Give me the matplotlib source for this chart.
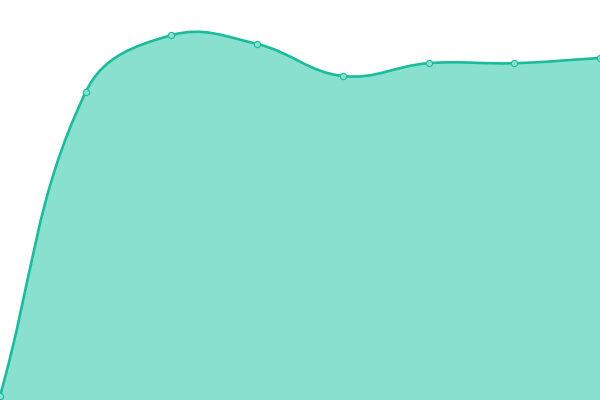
import matplotlib
matplotlib.use('Agg')
import matplotlib.pyplot as plt
from matplotlib.path import Path
from matplotlib.patches import PathPatch

# values (y axis 0..100)
labels = ['1', '2', '3', '4', '5', '6', '7', '8']
values = [1, 77, 91.2, 89, 81, 84.2, 84.2, 85.5]

line_color = '#1abc9c'
fill_color = '#8ae0cf'
tension = 0.4

fig = plt.figure(figsize=(6, 4), dpi=100)
ax = fig.add_axes([0, 0, 1, 1])
ax.set_xlim(0, len(values) - 1)
ax.set_ylim(0, 100)
ax.axis('off')

# scale factors so the spline is computed in pixel space
sx = 600 / (len(values) - 1)
sy = 400 / 100
pts = [(i * sx, v * sy) for i, v in enumerate(values)]


def controls(prev, cur, nxt):
    d01 = ((cur[0] - prev[0]) ** 2 + (cur[1] - prev[1]) ** 2) ** 0.5
    d12 = ((nxt[0] - cur[0]) ** 2 + (nxt[1] - cur[1]) ** 2) ** 0.5
    tot = d01 + d12
    s01 = d01 / tot if tot else 0
    s12 = d12 / tot if tot else 0
    fa, fb = tension * s01, tension * s12
    c1 = (cur[0] - fa * (nxt[0] - prev[0]), cur[1] - fa * (nxt[1] - prev[1]))
    c2 = (cur[0] + fb * (nxt[0] - prev[0]), cur[1] + fb * (nxt[1] - prev[1]))
    return c1, c2


ctrl = []
for i, p in enumerate(pts):
    prev = pts[i - 1] if i > 0 else p
    nxt = pts[i + 1] if i < len(pts) - 1 else p
    ctrl.append(controls(prev, p, nxt))

verts = [pts[0]]
codes = [Path.MOVETO]
for i in range(1, len(pts)):
    verts += [ctrl[i - 1][1], ctrl[i][0], pts[i]]
    codes += [Path.CURVE4] * 3
verts = [(x / sx, y / sy) for x, y in verts]

fill_verts = verts + [(len(values) - 1, 0), (0, 0), verts[0]]
fill_codes = codes + [Path.LINETO, Path.LINETO, Path.CLOSEPOLY]
ax.add_patch(PathPatch(Path(fill_verts, fill_codes), facecolor=fill_color, edgecolor='none'))
ax.add_patch(PathPatch(Path(verts, codes), facecolor='none', edgecolor=line_color, linewidth=1.9))

ax.plot(range(len(values)), values, linestyle='none', marker='o', markersize=4.5,
        markerfacecolor=fill_color, markeredgecolor=line_color, markeredgewidth=0.8)

plt.savefig('out.png', dpi=100)
